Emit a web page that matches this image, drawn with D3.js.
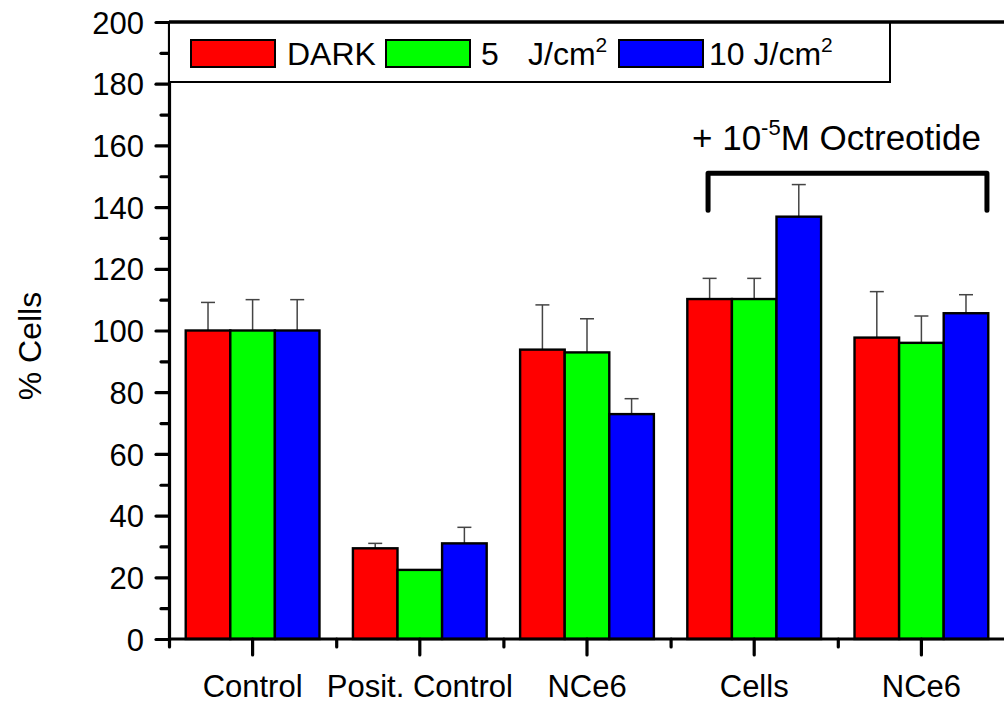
<!DOCTYPE html>
<html>
<head>
<meta charset="utf-8">
<script src="https://cdn.jsdelivr.net/npm/d3@7/dist/d3.min.js"></script>
<style>
  html, body { margin: 0; padding: 0; background: #fff; }
  svg { display: block; font-family: "Liberation Sans", Arial, sans-serif; }
</style>
</head>
<body>
<svg id="chart" width="1004" height="706"></svg>
<script>
// Groups along the x axis
const categories = ["Control", "Posit. Control", "NCe6", "Cells", "NCe6"];
// Series (light dose) and their fill colours
const seriesNames = ["DARK", "5 J/cm2", "10 J/cm2"];
const seriesColors = ["#ff0000", "#00ff00", "#0000ff"];
// Mean % cells per group
const darkValues = [100, 29.4, 93.8, 110.2, 97.7];
const dose5Values = [100, 22.4, 92.9, 110.2, 96.0];
const dose10Values = [100, 31.0, 72.9, 136.9, 105.6];
// Upper error (SD) per group
const darkErrors = [9.1, 1.6, 14.5, 6.7, 14.9];
const dose5Errors = [10, 0, 10.9, 6.7, 8.7];
const dose10Errors = [10, 5.2, 5.0, 10.4, 6.0];
// Y axis ticks
const yMajorTicks = [0, 20, 40, 60, 80, 100, 120, 140, 160, 180, 200];
const yMinorTicks = [10, 30, 50, 70, 90, 110, 130, 150, 170, 190];
// Octreotide bracket: span in group index units, height in % cells
const bracketSpan = [2.724, 4.392];
const bracketLevels = [151, 139];

const values = [darkValues, dose5Values, dose10Values];
const errors = [darkErrors, dose5Errors, dose10Errors];

const svg = d3.select("#chart");
const plotLeft = 169, plotRight = 1005, plotTop = 22, plotBottom = 639;
const fontFamily = "Liberation Sans, Arial, sans-serif";

const x = d3.scaleBand()
  .domain(d3.range(categories.length))
  .range([plotLeft, plotRight])
  .paddingInner(0.2)
  .paddingOuter(0.1);
const xs = d3.scaleBand()
  .domain(d3.range(seriesNames.length))
  .range([0, x.bandwidth()]);
const xc = d3.scaleLinear()
  .domain([-0.5, categories.length - 0.5])
  .range([plotLeft, plotRight]);
const y = d3.scaleLinear().domain([0, 200]).range([plotBottom, plotTop]);

// Bars
const rows = [];
values.forEach((arr, s) => arr.forEach((v, i) => rows.push({ s, i, v, e: errors[s][i] })));

// Error bars (drawn first so bar outlines sit on top)
const eb = svg.append("g").attr("class", "errorbars");
rows.filter(d => d.e > 0).forEach(d => {
  const cx = x(d.i) + xs(d.s) + xs.bandwidth() / 2;
  eb.append("line")
    .attr("x1", cx).attr("x2", cx)
    .attr("y1", y(d.v)).attr("y2", y(d.v + d.e))
    .attr("stroke", "#444").attr("stroke-width", 1.5);
  eb.append("line")
    .attr("x1", cx - 7).attr("x2", cx + 7)
    .attr("y1", y(d.v + d.e)).attr("y2", y(d.v + d.e))
    .attr("stroke", "#444").attr("stroke-width", 1.5);
});

svg.append("g").attr("class", "bars")
  .selectAll("rect").data(rows).join("rect")
  .attr("x", d => x(d.i) + xs(d.s))
  .attr("y", d => y(d.v))
  .attr("width", xs.bandwidth())
  .attr("height", d => y(0) - y(d.v))
  .attr("fill", d => seriesColors[d.s])
  .attr("stroke", "#000")
  .attr("stroke-width", 2.4);

// Y axis
const yAxis = svg.append("g")
  .attr("transform", `translate(${plotLeft},0)`)
  .call(d3.axisLeft(y).tickValues(yMajorTicks).tickSize(13).tickPadding(12));
yAxis.select(".domain").attr("stroke-width", 3.2);
yAxis.selectAll(".tick line").attr("stroke-width", 3.2).attr("stroke-linecap", "round");
yAxis.selectAll("text").attr("font-size", 31).attr("font-family", fontFamily).attr("fill", "#000").attr("dy", "0.36em");

const yMinor = svg.append("g")
  .attr("transform", `translate(${plotLeft},0)`)
  .call(d3.axisLeft(y).tickValues(yMinorTicks).tickSize(8).tickFormat(""));
yMinor.select(".domain").remove();
yMinor.selectAll(".tick line").attr("stroke-width", 3.2).attr("stroke-linecap", "round");

// X axis: major ticks at group centres, minor ticks between groups
const xAxis = svg.append("g")
  .attr("transform", `translate(0,${plotBottom})`)
  .call(d3.axisBottom(x).tickSize(16).tickPadding(20).tickFormat(i => categories[i]).tickSizeOuter(0));
xAxis.select(".domain").attr("stroke-width", 3.2).attr("d", `M${plotLeft},0H${1004}`);
xAxis.selectAll(".tick line").attr("stroke-width", 3.2).attr("stroke-linecap", "round");
xAxis.selectAll("text").attr("font-size", 31).attr("font-family", fontFamily).attr("fill", "#000");

const xMinor = svg.append("g")
  .attr("transform", `translate(0,${plotBottom})`)
  .call(d3.axisBottom(xc).tickValues(d3.range(categories.length).map(i => i - 0.5)).tickSize(8).tickFormat(""));
xMinor.select(".domain").remove();
xMinor.selectAll(".tick line").attr("stroke-width", 3.2).attr("stroke-linecap", "round");

// Y axis title
svg.append("text")
  .attr("transform", `translate(41,346) rotate(-90)`)
  .attr("text-anchor", "middle")
  .attr("font-size", 32)
  .text("% Cells");

// Legend
const lg = svg.append("g").attr("class", "legend");
lg.append("rect")
  .attr("x", plotLeft).attr("y", plotTop)
  .attr("width", 890 - plotLeft).attr("height", 82 - plotTop)
  .attr("fill", "#fff").attr("stroke", "#000").attr("stroke-width", 2);
// Top frame line
svg.append("line")
  .attr("x1", plotLeft).attr("x2", 1004)
  .attr("y1", y(200)).attr("y2", y(200))
  .attr("stroke", "#000").attr("stroke-width", 3.5);
const swatchX = [191, 386, 619];
const labelX = [287, 481, 709];
seriesNames.forEach((name, s) => {
  lg.append("rect")
    .attr("x", swatchX[s]).attr("y", 40)
    .attr("width", 84).attr("height", 27)
    .attr("fill", seriesColors[s]).attr("stroke", "#000").attr("stroke-width", 2);
});
const legText = (xPos) => lg.append("text").attr("x", xPos).attr("y", 65).attr("font-size", 32);
legText(labelX[0]).text("DARK");
const t1 = legText(labelX[1]);
t1.append("tspan").text("5");
t1.append("tspan").attr("x", 528).text("J/cm");
t1.append("tspan").attr("font-size", 21).attr("dy", -13).text("2");
const t2 = legText(labelX[2]);
t2.append("tspan").text("10 J/cm");
t2.append("tspan").attr("font-size", 21).attr("dy", -13).text("2");

// Octreotide bracket over the last two groups
const bx0 = xc(bracketSpan[0]), bx1 = xc(bracketSpan[1]);
const by = y(bracketLevels[0]), byEnd = y(bracketLevels[1]);
svg.append("path")
  .attr("d", `M${bx0},${byEnd}V${by}H${bx1}V${byEnd}`)
  .attr("fill", "none").attr("stroke", "#000")
  .attr("stroke-width", 5).attr("stroke-linecap", "round").attr("stroke-linejoin", "round");
const oct = svg.append("text")
  .attr("x", 692).attr("y", 150).attr("font-size", 35);
oct.append("tspan").text("+ 10");
oct.append("tspan").attr("font-size", 22).attr("dy", -15).text("-5");
oct.append("tspan").attr("dy", 15).text("M Octreotide");
</script>
</body>
</html>
